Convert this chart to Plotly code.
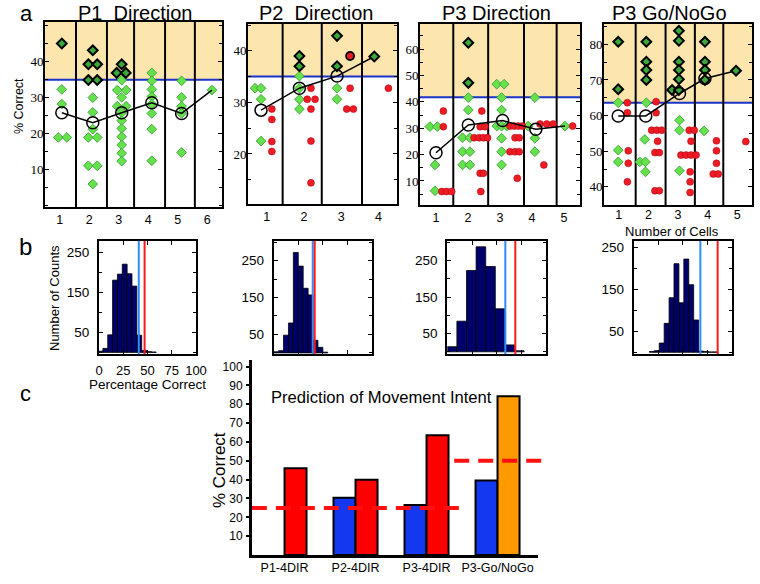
import plotly.graph_objects as go

W, H = 760, 584
SANS = "Liberation Sans, Arial, sans-serif"
SERIF = "Liberation Serif, Times New Roman, serif"

GREEN = "#66e04d"
GREEN_EDGE = "#2f9a2f"
RED = "#ec1c24"
SHADE = "#fde5ae"
THRESH = "#1a33c8"
NAVY = "#00006a"

# ---------------- panel a data (x = number of cells, jittered inside a column) ----------------
p1_green_x = [1.07, 1.07, 0.95, 1.24,
              2.12, 2.12, 2.12, 1.97, 2.27, 1.97, 2.27, 2.12,
              3.10, 2.95, 3.25, 3.10, 2.95, 3.25, 3.10, 3.10, 3.10, 3.10, 3.10, 3.10, 3.10,
              4.12, 4.12, 4.12, 4.12, 4.12, 4.12, 4.12, 4.12,
              5.13, 5.13, 5.13, 5.13, 5.13,
              6.16]
p1_green_y = [32.3, 28.2, 18.9, 18.9,
              30.0, 25.9, 21.2, 18.9, 18.9, 11.0, 11.0, 5.9,
              34.9, 32.1, 32.1, 30.1, 27.6, 27.6, 25.8, 23.6, 21.4, 19.1, 16.8, 14.5, 12.3,
              36.9, 34.7, 32.3, 30.3, 28.2, 25.6, 21.2, 12.4,
              34.7, 30.1, 27.6, 25.6, 14.7,
              32.1]
p1_black_x = [1.07, 2.12, 1.97, 2.27, 1.97, 2.27, 3.10, 2.93, 3.24]
p1_black_y = [45.1, 43.2, 39.3, 39.3, 34.9, 34.9, 39.3, 36.9, 36.9]
p1_mean_x = [1.07, 2.12, 3.10, 4.12, 5.13, 6.16]
p1_mean_y = [25.8, 23.0, 25.8, 28.6, 25.6, 32.1]
p1_edges = [1.55, 2.60, 3.52, 4.57, 5.58]

p2_green_x = [0.69, 0.85, 0.85, 0.85, 1.88, 1.88, 1.88, 1.88, 2.89, 2.89]
p2_green_y = [32.75, 32.75, 30.6, 22.5, 35.1, 32.75, 30.6, 28.7, 32.75, 30.6]
p2_black_x = [1.88, 1.88, 2.89, 2.89, 3.89]
p2_black_y = [39.0, 37.0, 42.9, 37.0, 38.9]
p2_red_x = [1.14, 1.14, 1.14, 1.14, 2.19, 2.09, 2.30, 2.19, 2.19, 2.19, 3.24, 3.15, 3.33, 4.27]
p2_red_y = [28.7, 26.7, 22.4, 20.5, 32.75, 30.6, 30.6, 28.7, 22.5, 14.4, 32.75, 28.7, 28.7, 32.75]
p2_redblack_x = [3.24]
p2_redblack_y = [39.0]
p2_mean_x = [0.85, 1.88, 2.89, 3.89]
p2_mean_y = [28.5, 32.75, 35.1, 38.9]
p2_edges = [1.43, 2.48, 3.56]

p3_green_x = [0.81, 1.04, 0.97, 0.97,
              2.01, 2.01, 1.83, 2.06, 1.83, 2.06, 1.83, 2.06,
              2.90, 3.13, 3.05, 3.05, 2.90, 3.05, 3.21, 3.05, 3.05, 3.05,
              4.09, 3.88, 4.09, 4.09,
              5.03]
p3_green_y = [30.6, 30.6, 16.1, 6.3,
              41.6, 36.9, 26.4, 26.4, 21.1, 21.1, 16.1, 16.1,
              46.7, 46.7, 41.6, 36.9, 30.8, 30.8, 30.8, 26.2, 21.1, 16.1,
              41.6, 30.8, 26.2, 21.1,
              30.8]
p3_black_x = [2.01, 2.01]
p3_black_y = [62.4, 47.2]
p3_red_x = [1.23, 1.23, 1.18, 1.33, 1.49,
            2.43, 2.38, 2.53, 2.19, 2.35, 2.48, 2.61, 2.38, 2.48, 2.40,
            3.31, 3.44, 3.57, 3.70, 3.47, 3.60, 3.31, 3.47, 3.60, 3.54,
            4.25, 4.46, 4.66, 4.37,
            5.27]
p3_red_y = [36.5, 30.6, 6.0, 6.0, 6.0,
            36.5, 30.6, 30.6, 26.4, 26.4, 26.4, 26.4, 12.9, 12.9, 6.0,
            30.8, 30.8, 30.8, 30.8, 26.4, 26.4, 21.1, 21.1, 21.1, 11.0,
            31.6, 31.6, 31.6, 16.1,
            30.8]
p3_mean_x = [1.00, 2.01, 3.08, 4.12, 5.03]
p3_mean_y = [20.7, 31.2, 32.9, 29.6, 30.8]
p3_edges = [1.54, 2.63, 3.75, 4.77]

p4_black_x = [0.98, 0.98, 1.93, 1.93, 1.93, 1.93,
              3.03, 3.03, 3.03, 3.03, 3.03, 2.80, 3.03,
              3.91, 3.91, 3.91, 3.91, 4.96]
p4_black_y = [80.7, 67.4, 80.7, 75.1, 72.8, 70.0,
              83.8, 81.0, 75.1, 72.8, 70.2, 67.2, 67.2,
              80.7, 75.1, 72.8, 70.0, 72.6]
p4_green_x = [0.98, 0.98, 0.98, 1.93, 1.88, 1.71, 1.90, 1.90, 3.05, 3.05, 3.05, 3.88]
p4_green_y = [63.6, 50.3, 47.0, 63.6, 53.3, 47.0, 47.0, 44.2, 58.7, 55.9, 44.5, 55.7]
p4_red_x = [1.29, 1.29, 1.32, 1.32, 1.29,
            2.26, 2.26, 2.11, 2.28, 2.45, 2.31, 2.22, 2.37, 2.22, 2.37,
            3.38, 3.55, 3.44, 3.10, 3.27, 3.44, 3.61, 3.41, 3.41, 3.41,
            4.30, 4.30, 4.30, 4.19, 4.36,
            5.29]
p4_red_y = [63.6, 60.8, 50.1, 46.6, 41.4,
            63.9, 60.8, 55.9, 55.9, 55.9, 52.8, 49.6, 49.6, 38.9, 38.9,
            55.9, 55.9, 52.8, 48.9, 48.9, 48.9, 48.9, 44.2, 41.4, 38.4,
            52.9, 50.1, 46.6, 43.6, 43.6,
            52.7]
p4_mean_x = [0.98, 1.91, 3.05, 3.91, 4.96]
p4_mean_y = [59.9, 59.9, 66.2, 70.4, 72.6]
p4_edges = [1.57, 2.58, 3.57, 4.53]

a_titles = ["P1\u00a0 Direction", "P2\u00a0 Direction", "P3 Direction", "P3 Go/NoGo"]
a_thresholds = [35, 35, 41.7, 63.6]
a_cells = [[1, 2, 3, 4, 5, 6], [1, 2, 3, 4], [1, 2, 3, 4, 5], [1, 2, 3, 4, 5]]
a_yticks = [[10, 20, 30, 40], [20, 30, 40], [10, 20, 30, 40, 50, 60], [40, 50, 60, 70, 80]]

# ---------------- panel b data (shuffle histograms) ----------------
b1_centers = [1.5, 6.5, 11.5, 16.5, 21.5, 26.5, 31.5, 36.5, 41.5, 46.5, 51.5, 56.5]
b1_counts = [3, 10, 44, 181, 196, 221, 197, 166, 43, 5, 2, 1]
b2_centers = [2.5, 7.5, 12.5, 17.5, 22.5, 27.5, 32.5, 37.5, 42.5, 47.5, 52.5]
b2_counts = [3, 6, 48, 81, 272, 235, 175, 157, 34, 15, 2]
b3_centers = [4.85, 14.55, 24.25, 33.95, 43.65, 53.35, 63.05, 72.75]
b3_counts = [14, 84, 223, 288, 234, 118, 19, 3]
b4_centers = [18.5, 23.5, 28.5, 33.5, 38.5, 43.5, 48.5, 53.5, 58.5, 63.5, 68.5, 73.5, 78.5, 83.5]
b4_counts = [2, 4, 22, 69, 130, 211, 118, 222, 161, 77, 3, 2, 1, 1]
b_bin_widths = [5, 5, 9.7, 5]
b_sig_level = [41, 39.7, 58.6, 67.8]
b_actual = [47, 41.7, 68.7, 85.4]

# ---------------- panel c data ----------------
c_groups = ["P1-4DIR", "P2-4DIR", "P3-4DIR", "P3-Go/NoGo"]
c_blue = [None, 30.4, 26.5, 39.5]
c_red = [46.1, 40.0, 63.5, 84.2]
c_red_colors = ["#ff0000", "#ff0000", "#ff0000", "#ff9900"]
c_chance = [25, 50]


def xdom(left, right):
    return [left / W, right / W]


def ydom(top, bottom):
    return [1 - bottom / H, 1 - top / H]


def ids(n):
    return ("x" if n == 1 else f"x{n}", "y" if n == 1 else f"y{n}",
            "xaxis" if n == 1 else f"xaxis{n}", "yaxis" if n == 1 else f"yaxis{n}")


fig = go.Figure()
layout = {}
shapes = []
annotations = []


def note(text, x, y, size, angle=0, family=SANS):
    annotations.append(dict(text=text, x=x / W, y=1 - y / H, xref="paper", yref="paper",
                            showarrow=False, textangle=angle, xanchor="center", yanchor="middle",
                            font=dict(family=family, size=size, color="black")))


# ---------- panel a ----------
a_panels = [
    dict(green=(p1_green_x, p1_green_y), black=(p1_black_x, p1_black_y), red=([], []),
         redblack=([], []), mean=(p1_mean_x, p1_mean_y), edges=p1_edges,
         xd=(45, 222), yd=(22, 207), xr=[0.5, 6.5], yr=[-0.5, 51.1], tx=135, lab=0),
    dict(green=(p2_green_x, p2_green_y), black=(p2_black_x, p2_black_y), red=(p2_red_x, p2_red_y),
         redblack=(p2_redblack_x, p2_redblack_y), mean=(p2_mean_x, p2_mean_y), edges=p2_edges,
         xd=(248, 397), yd=(24, 204), xr=[0.5, 4.5], yr=[10.3, 45.2], tx=316, lab=0),
    dict(green=(p3_green_x, p3_green_y), black=(p3_black_x, p3_black_y), red=(p3_red_x, p3_red_y),
         redblack=([], []), mean=(p3_mean_x, p3_mean_y), edges=p3_edges,
         xd=(420, 580), yd=(24, 205), xr=[0.5, 5.5], yr=[0.9, 69.5], tx=496, lab=0),
    dict(green=(p4_green_x, p4_green_y), black=(p4_black_x, p4_black_y), red=(p4_red_x, p4_red_y),
         redblack=([], []), mean=(p4_mean_x, p4_mean_y), edges=p4_edges,
         xd=(604, 752), yd=(24, 205), xr=[0.5, 5.5], yr=[34.9, 85.7], tx=669, lab=-3),
]

for i, p in enumerate(a_panels):
    n = i + 1
    xa, ya, xl, yl = ids(n)
    layout[xl] = dict(domain=xdom(*p["xd"]), anchor=ya, range=p["xr"], tickvals=a_cells[i],
                      ticks="", showline=True, mirror=True, linewidth=2, linecolor="black",
                      showgrid=False, zeroline=False, ticklabelstandoff=p["lab"], automargin=False,
                      tickfont=dict(family=SANS, size=12.5, color="black"))
    layout[yl] = dict(domain=ydom(*p["yd"]), anchor=xa, range=p["yr"], tickvals=a_yticks[i],
                      ticks="inside", ticklen=4, tickwidth=1.2, tickcolor="black",
                      minor=dict(tick0=0, dtick=5, ticks="inside", ticklen=3, tickcolor="black"),
                      showline=True, mirror="ticks", linewidth=2, linecolor="black",
                      showgrid=False, zeroline=False, ticklabelstandoff=-3, automargin=False,
                      tickfont=dict(family=SERIF, size=13, color="black"))
    thr = a_thresholds[i]
    shapes.append(dict(type="rect", xref=f"{xa} domain", yref=ya, x0=0, x1=1, y0=thr,
                       y1=p["yr"][1], fillcolor=SHADE, line=dict(width=0), layer="below"))
    shapes.append(dict(type="line", xref=f"{xa} domain", yref=ya, x0=0, x1=1, y0=thr, y1=thr,
                       line=dict(color=THRESH, width=2), layer="below"))
    for e in p["edges"]:
        shapes.append(dict(type="line", xref=xa, yref=f"{ya} domain", x0=e, x1=e, y0=0, y1=1,
                           line=dict(color="black", width=2), layer="below"))

    gx, gy = p["green"]
    fig.add_trace(go.Scatter(x=gx, y=gy, mode="markers", xaxis=xa, yaxis=ya,
                             marker=dict(symbol="diamond", size=7.5, color=GREEN,
                                         line=dict(color=GREEN_EDGE, width=0.8))))
    rx, ry = p["red"]
    fig.add_trace(go.Scatter(x=rx, y=ry, mode="markers", xaxis=xa, yaxis=ya,
                             marker=dict(symbol="circle", size=7, color=RED,
                                         line=dict(color="#b00010", width=0.5))))
    rbx, rby = p["redblack"]
    fig.add_trace(go.Scatter(x=rbx, y=rby, mode="markers", xaxis=xa, yaxis=ya,
                             marker=dict(symbol="circle", size=8, color=RED,
                                         line=dict(color="black", width=1.8))))
    mx, my = p["mean"]
    fig.add_trace(go.Scatter(x=mx, y=my, mode="lines", xaxis=xa, yaxis=ya,
                             line=dict(color="black", width=1.5)))
    bx, by = p["black"]
    fig.add_trace(go.Scatter(x=bx, y=by, mode="markers", xaxis=xa, yaxis=ya,
                             marker=dict(symbol="diamond", size=7.5, color="#3aa83a",
                                         line=dict(color="black", width=2))))
    fig.add_trace(go.Scatter(x=mx[:-1], y=my[:-1], mode="markers", xaxis=xa, yaxis=ya,
                             marker=dict(symbol="circle-open", size=12, color="black",
                                         line=dict(color="black", width=1.5))))
    note(a_titles[i], p["tx"], 13, 20)

# ---------- panel b ----------
b_hists = [(b1_centers, b1_counts), (b2_centers, b2_counts), (b3_centers, b3_counts), (b4_centers, b4_counts)]
b_xd = [(99, 196), (273.7, 372), (447.3, 546.3), (633.7, 732)]
b_yr = [[-4, 279], [-3, 303], [-6, 304], [-4, 265]]

for i, (centers, counts) in enumerate(b_hists):
    n = 5 + i
    xa, ya, xl, yl = ids(n)
    layout[xl] = dict(domain=xdom(*b_xd[i]), anchor=ya, range=[0, 100],
                      tickvals=[0, 25, 50, 75, 100], ticks="inside", ticklen=4, tickcolor="black",
                      showticklabels=(i == 0), showline=True, mirror="ticks", linewidth=2,
                      linecolor="black", showgrid=False, zeroline=False, ticklabelstandoff=3,
                      automargin=False, tickfont=dict(family=SANS, size=13, color="black"))
    layout[yl] = dict(domain=ydom(241, 354), anchor=xa, range=b_yr[i], tickvals=[50, 150, 250],
                      ticks="inside", ticklen=4, tickcolor="black",
                      minor=dict(tick0=0, dtick=50, ticks="inside", ticklen=3, tickcolor="black"),
                      showline=True, mirror="ticks", linewidth=2, linecolor="black",
                      showgrid=False, zeroline=False, ticklabelstandoff=5, automargin=False,
                      tickfont=dict(family=SANS, size=13.5, color="black"))
    fig.add_trace(go.Bar(x=centers, y=counts, width=b_bin_widths[i], xaxis=xa, yaxis=ya,
                         marker=dict(color=NAVY, line=dict(color="black", width=0.8))))
    shapes.append(dict(type="line", xref=xa, yref=f"{ya} domain", x0=b_sig_level[i], x1=b_sig_level[i],
                       y0=0, y1=1, line=dict(color="#2f8cff", width=2)))
    shapes.append(dict(type="line", xref=xa, yref=f"{ya} domain", x0=b_actual[i], x1=b_actual[i],
                       y0=0, y1=1, line=dict(color="#ff1a1a", width=2)))

# ---------- panel c ----------
xa, ya, xl, yl = ids(9)
layout[xl] = dict(domain=xdom(252, 538), anchor=ya, type="category", range=[-0.458, 3.57],
                  ticks="", showline=True, linewidth=3, linecolor="black", showgrid=False,
                  zeroline=False, ticklabelstandoff=-1, automargin=False,
                  tickfont=dict(family=SANS, size=12.5, color="black"))
layout[yl] = dict(domain=ydom(360, 555), anchor=xa, range=[0, 103.5],
                  tickvals=[10, 20, 30, 40, 50, 60, 70, 80, 90, 100], ticks="outside", ticklen=3,
                  tickwidth=1.5, tickcolor="black", showline=True, linewidth=3, linecolor="black",
                  showgrid=False, zeroline=False, ticklabelstandoff=1, automargin=False,
                  tickfont=dict(family=SANS, size=12, color="black"))
fig.add_trace(go.Bar(x=c_groups, y=c_blue, xaxis=xa, yaxis=ya,
                     marker=dict(color="#1437f0", line=dict(color="black", width=2))))
fig.add_trace(go.Bar(x=c_groups, y=c_red, xaxis=xa, yaxis=ya,
                     marker=dict(color=c_red_colors, line=dict(color="black", width=2))))

# chance levels, drawn on an invisible overlay that runs past the right end of the bar axis
ox, oy, oxl, oyl = ids(10)
layout[oxl] = dict(domain=xdom(252, 560), anchor=oy, range=[-0.458, 3.88], visible=False,
                   automargin=False)
layout[oyl] = dict(domain=ydom(360, 555), anchor=ox, range=[0, 103.5], visible=False,
                   automargin=False)
chance_spans = [(-0.46, 2.47), (2.39, 3.70)]
for level, (x0, x1) in zip(c_chance, chance_spans):
    fig.add_trace(go.Scatter(x=[x0, x1], y=[level, level], mode="lines", xaxis=ox, yaxis=oy,
                             line=dict(color="#ff1010", width=4, dash="15px,9px")))

# ---------- text ----------
note("a", 26, 14, 22)
note("b", 25, 247, 24)
note("c", 25, 393, 22)
note("% Correct", 19, 106, 12.5, angle=-90)
note("Number of Cells", 672, 231, 13)
note("Number of Counts", 54, 298, 13, angle=-90)
note("Percentage Correct", 147, 384, 13.5)
note("Prediction of Movement Intent", 381.5, 397, 16.6)
note("% Correct", 219, 470, 17, angle=-90)

fig.update_layout(
    width=W, height=H,
    margin=dict(l=0, r=0, t=0, b=0, autoexpand=False),
    paper_bgcolor="white", plot_bgcolor="rgba(0,0,0,0)",
    showlegend=False,
    barmode="group", bargap=0.38, bargroupgap=0,
    shapes=shapes, annotations=annotations,
    font=dict(family=SANS, color="black"),
    **layout,
)

# the page's default 8px body margin would push the whole figure off its 760x584 frame
fig.write_html("out.html", config={"displayModeBar": False},
               post_script="document.body.style.margin = '0px';")
